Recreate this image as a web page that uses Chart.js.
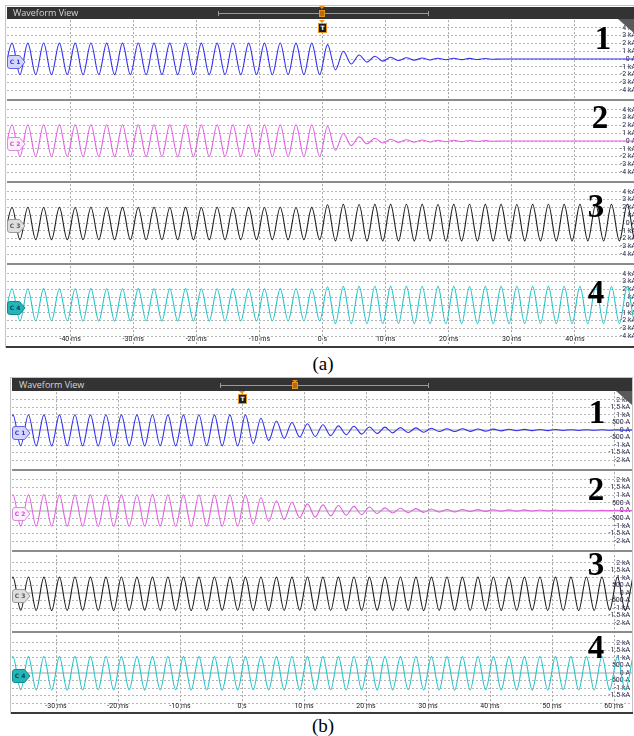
<!DOCTYPE html>
<html>
<head>
<meta charset="utf-8">
<script src="https://cdn.jsdelivr.net/npm/chart.js@4.4.1/dist/chart.umd.min.js"></script>
<style>
  html, body { margin: 0; padding: 0; }
  body { width: 634px; height: 736px; overflow: hidden; background: #fff; position: relative; font-family: 'Open Sans', sans-serif; }
  .abs { position: absolute; }
  .frame { position: absolute; box-sizing: border-box; border: 1px solid #c4c4c4; }
  .head { position: absolute; background: #333; color: #d6d6d6; font-size: 9px; white-space: nowrap; }
  .head span { position: absolute; }
  .rail { position: absolute; height: 1px; background: #9a9a9a; }
  .cap { position: absolute; width: 1px; height: 5px; background: #9a9a9a; }
  .sep { position: absolute; height: 2px; background: #8c8c8c; }
  .base { position: absolute; height: 2px; background: #3a3a3a; }
  .num { position: absolute; font-family: 'Liberation Serif', serif; font-weight: bold; font-size: 33px; line-height: 33px; color: #000; transform: translateX(-50%); }
  .cap-label { position: absolute; font-family: 'Liberation Serif', serif; font-size: 19px; line-height: 19px; color: #000; transform: translateX(-50%); }
  .corner { position: absolute; width: 0; height: 0; border-top: 14px solid #5a5a5a; border-left: 16px solid transparent; }
  .pos { position: absolute; width: 4px; height: 5px; background: #b86a12; border: 1px solid #e8901e; }
  .tri { position: absolute; width: 0; height: 0; border-left: 3px solid transparent; border-right: 3px solid transparent; border-top: 3px solid #e8901e; }
  .trig { position: absolute; width: 7px; height: 8px; background: #1c1c1c; border: 1px solid #e8901e; color: #fff; font: bold 6px/8px 'DejaVu Sans', sans-serif; text-align: center; }
</style>
</head>
<body>
<script>
// Channel currents in kA, one value per successive half-cycle extremum.
// The sample clock is the half period of the 400 Hz signal (1.25 ms).
const HALF_PERIOD = 1.25;

// Record (a): first extremum at -50.45 ms
const startA = -50.45;
const ch1A = [
  -2.0, 2.05, -2.02, 2.05, -2.0, 2.06, -2.01, 2.05, -2.0, 2.05,
  -2.02, 2.06, -2.0, 2.05, -2.01, 2.05, -2.0, 2.06, -2.02, 2.05,
  -2.0, 2.05, -2.01, 2.06, -2.0, 2.05, -2.02, 2.05, -2.0, 2.06,
  -2.01, 2.05, -2.0, 2.05, -2.02, 2.06, -2.0, 2.05, -2.01, 2.05,
  -2.0,
  1.85, -1.4, 1.0, -0.65, 0.52, -0.4, 0.36, -0.28, 0.22, -0.2,
  0.16, -0.15, 0.12, -0.12, 0.1, -0.1, 0.09, -0.08, 0.08, -0.07,
  0.06, -0.04,
  0, 0, 0, 0, 0, 0, 0, 0, 0, 0, 0, 0, 0, 0, 0, 0, 0, 0, 0
];
const ch2A = [
  -2.0, 2.1, -2.01, 2.09, -2.0, 2.1, -2.02, 2.1, -2.0, 2.09,
  -2.01, 2.1, -2.0, 2.1, -2.02, 2.09, -2.0, 2.1, -2.01, 2.1,
  -2.0, 2.09, -2.02, 2.1, -2.0, 2.1, -2.01, 2.09, -2.0, 2.1,
  -2.02, 2.1, -2.0, 2.09, -2.01, 2.1, -2.0, 2.1, -2.02, 2.1,
  -2.0,
  1.9, -1.2, 0.97, -0.6, 0.53, -0.36, 0.36, -0.25, 0.22, -0.18,
  0.16, -0.14, 0.13, -0.12, 0.1, -0.1, 0.09, -0.08, 0.07, -0.06,
  0.05, -0.04,
  0, 0, 0, 0, 0, 0, 0, 0, 0, 0, 0, 0, 0, 0, 0, 0, 0, 0, 0
];
const ch3A = [
  -2.15, 2.0, -2.14, 2.02, -2.15, 2.0, -2.16, 2.01, -2.15, 2.0,
  -2.14, 2.02, -2.15, 2.0, -2.15, 2.01, -2.16, 2.0, -2.15, 2.02,
  -2.14, 2.0, -2.15, 2.01, -2.15, 2.0, -2.16, 2.02, -2.15, 2.0,
  -2.14, 2.01, -2.15, 2.0, -2.15, 2.02, -2.16, 2.0, -2.15, 2.01,
  -2.15,
  2.36, -2.3, 2.4, -2.31, 2.39, -2.3, 2.4, -2.32, 2.4, -2.3,
  2.41, -2.31, 2.4, -2.3, 2.39, -2.32, 2.4, -2.3, 2.41, -2.31,
  2.4, -2.3, 2.4, -2.32, 2.39, -2.3, 2.4, -2.31, 2.41, -2.3,
  2.4, -2.32, 2.4, -2.3, 2.39, -2.31, 2.4, -2.3, 2.41, -2.32,
  2.4
];
const ch4A = [
  -2.05, 2.1, -2.06, 2.1, -2.05, 2.11, -2.05, 2.1, -2.04, 2.1,
  -2.05, 2.11, -2.06, 2.1, -2.05, 2.1, -2.05, 2.11, -2.04, 2.1,
  -2.05, 2.1, -2.06, 2.11, -2.05, 2.1, -2.05, 2.1, -2.04, 2.11,
  -2.05, 2.1, -2.06, 2.1, -2.05, 2.11, -2.05, 2.1, -2.04, 2.1,
  -2.05,
  2.36, -2.4, 2.4, -2.41, 2.4, -2.4, 2.41, -2.4, 2.4, -2.39,
  2.4, -2.4, 2.41, -2.4, 2.4, -2.41, 2.4, -2.4, 2.39, -2.4,
  2.4, -2.41, 2.4, -2.4, 2.41, -2.4, 2.4, -2.39, 2.4, -2.4,
  2.41, -2.4, 2.4, -2.41, 2.4, -2.4, 2.39, -2.4, 2.4, -2.4,
  2.41
];

// Record (b): first extremum at -38.2 ms
const startB = -38.2;
const ch1B = [
  -1.05, 1.0, -1.04, 1.01, -1.05, 1.0, -1.05, 1.0, -1.04, 1.01,
  -1.05, 1.0, -1.05, 1.01, -1.04, 1.0, -1.05, 1.0, -1.05, 1.01,
  -1.04, 1.0, -1.05, 1.0, -1.05, 1.01, -1.04, 1.0, -1.05, 1.0,
  -1.05,
  1.0, -0.9, 0.78, -0.7, 0.6, -0.56, 0.5, -0.46, 0.41, -0.43,
  0.35, -0.37, 0.27, -0.31, 0.25, -0.27, 0.2, -0.23, 0.19, -0.19,
  0.16, -0.17, 0.14, -0.15, 0.12, -0.1, 0.08,
  -0.1, 0.08, -0.09, 0.07, -0.08, 0.06, -0.06, 0.05, -0.05, 0.04,
  -0.04, 0.03, -0.04, 0.03, -0.03, 0.02, -0.03, 0.02, -0.02, 0.02,
  -0.02, 0.01, -0.02, 0.01
];
const ch2B = [
  -1.03, 1.03, -1.02, 1.03, -1.03, 1.04, -1.03, 1.03, -1.02, 1.03,
  -1.03, 1.03, -1.04, 1.03, -1.03, 1.02, -1.03, 1.03, -1.03, 1.04,
  -1.02, 1.03, -1.03, 1.03, -1.04, 1.03, -1.03, 1.02, -1.03, 1.03,
  -1.03,
  1.03, -0.9, 0.85, -0.72, 0.64, -0.6, 0.54, -0.47, 0.43, -0.43,
  0.37, -0.35, 0.33, -0.31, 0.27, -0.27, 0.23, -0.2, 0.17, -0.16,
  0.15, -0.14, 0.12, -0.12, 0.1, -0.1, 0.07,
  -0.09, 0.07, -0.07, 0.06, -0.06, 0.05, -0.05, 0.04, -0.04, 0.04,
  -0.03, 0.03, -0.03, 0.03, -0.02, 0.02, -0.02, 0.02, -0.02, 0.01,
  -0.01, 0.01, -0.01, 0.01
];
const ch3B = [
  -1.15, 1.05, -1.14, 1.06, -1.15, 1.05, -1.16, 1.05, -1.15, 1.06,
  -1.14, 1.05, -1.15, 1.05, -1.16, 1.06, -1.15, 1.05, -1.14, 1.05,
  -1.15, 1.06, -1.15, 1.05, -1.16, 1.05, -1.15, 1.06, -1.14, 1.05,
  -1.15, 1.05, -1.15, 1.06, -1.16, 1.05, -1.15, 1.05, -1.14, 1.06,
  -1.15, 1.05, -1.15, 1.05, -1.16, 1.06, -1.15, 1.05, -1.14, 1.05,
  -1.15, 1.06, -1.15, 1.05, -1.16, 1.05, -1.15, 1.06, -1.14, 1.05,
  -1.15, 1.05, -1.15, 1.06, -1.16, 1.05, -1.15, 1.05, -1.14, 1.06,
  -1.15, 1.05, -1.15, 1.05, -1.16, 1.06, -1.15, 1.05, -1.14, 1.05,
  -1.15, 1.06
];
const ch4B = [
  -1.12, 1.08, -1.11, 1.08, -1.12, 1.09, -1.12, 1.08, -1.13, 1.08,
  -1.12, 1.08, -1.11, 1.09, -1.12, 1.08, -1.12, 1.08, -1.13, 1.08,
  -1.12, 1.09, -1.11, 1.08, -1.12, 1.08, -1.12, 1.08, -1.13, 1.09,
  -1.12, 1.08, -1.11, 1.08, -1.12, 1.08, -1.12, 1.09, -1.13, 1.08,
  -1.12, 1.08, -1.11, 1.08, -1.12, 1.09, -1.12, 1.08, -1.13, 1.08,
  -1.12, 1.08, -1.11, 1.09, -1.12, 1.08, -1.12, 1.08, -1.13, 1.08,
  -1.12, 1.09, -1.11, 1.08, -1.12, 1.08, -1.12, 1.08, -1.13, 1.09,
  -1.12, 1.08, -1.11, 1.08, -1.12, 1.08, -1.12, 1.09, -1.13, 1.08,
  -1.12, 1.08
];

// Axis ticks
const timeTicksA = [-40, -30, -20, -10, 0, 10, 20, 30, 40];
const timeTicksB = [-30, -20, -10, 0, 10, 20, 30, 40, 50, 60];
const ampTicksA = [4, 3, 2, 1, 0, -1, -2, -3, -4];
const ampLabelsA = ['4 kA', '3 kA', '2 kA', '1 kA', '0 A', '-1 kA', '-2 kA', '-3 kA', '-4 kA'];
const ampTicksB = [2, 1.5, 1, 0.5, 0, -0.5, -1, -1.5, -2];
const ampLabelsB = ['2 kA', '1.5 kA', '1 kA', '500 A', '0 A', '-500 A', '-1 kA', '-1.5 kA', '-2 kA'];

const channelNames = ['C 1', 'C 2', 'C 3', 'C 4'];
const traceColors = ['#2f2ff0', '#e45ee4', '#1e1e1e', '#27c3cb'];
const tagStyles = [
  { fill: '#d6d6fb', stroke: '#6262ee', text: '#3434d8' },
  { fill: '#fcf0fc', stroke: '#e08ae0', text: '#cc4ccc' },
  { fill: '#dedede', stroke: '#9a9a9a', text: '#555' },
  { fill: '#22b6bc', stroke: '#15868b', text: '#0b3b3e' }
];

const SCOPE_FONT = "'Liberation Sans Narrow', 'Roboto', sans-serif";

// Screen layout of the two records
const panels = [
  {
    left: 7, width: 631, min: -50, max: 50, start: startA, ampMax: 5, labelPad: -2,
    ampTicks: ampTicksA, ampLabels: ampLabelsA, timeTicks: timeTicksA, zeroLine: false,
    hideLowestLabel: false,
    tops: [18, 100, 182, 264], heights: [82, 82, 82, 82],
    series: [ch1A, ch2A, ch3A, ch4A],
    tagLeft: 7, numX: [603, 600, 596, 596], numY: [38, 117, 206, 292]
  },
  {
    left: 12, width: 620, min: -37.1, max: 62.9, start: startB, ampMax: 2.5, labelPad: -2,
    ampTicks: ampTicksB, ampLabels: ampLabelsB, timeTicks: timeTicksB, zeroLine: true,
    hideLowestLabel: true,
    tops: [390, 470, 553, 633], heights: [80, 81, 80, 80],
    series: [ch1B, ch2B, ch3B, ch4B],
    tagLeft: 12, numX: [597, 596, 596, 596], numY: [412, 489, 564, 647]
  }
];

// Time labels sit inside the bottom strip, just above its lower edge
const timeLabels = {
  id: 'timeLabels',
  beforeDatasetsDraw(chart, args, opts) {
    if (!opts.show) return;
    const { ctx, chartArea, scales: { x } } = chart;
    ctx.save();
    ctx.font = '7px ' + SCOPE_FONT;
    ctx.fillStyle = '#1c1c1c';
    ctx.textAlign = 'center';
    ctx.textBaseline = 'middle';
    x.ticks.forEach(t => {
      ctx.fillText(t.label, x.getPixelForValue(t.value), chartArea.bottom - 4.5);
    });
    ctx.restore();
  }
};

function el(cls, css, text) {
  const d = document.createElement('div');
  d.className = cls;
  d.style.cssText = css;
  if (text) d.textContent = text;
  document.body.appendChild(d);
  return d;
}

function isZero(p, ctx) {
  return p.zeroLine && ctx.tick && ctx.tick.value === 0;
}

function drawStrip(p, k) {
  const canvas = document.createElement('canvas');
  canvas.width = p.width;
  canvas.height = p.heights[k];
  canvas.style.cssText = `position:absolute;left:${p.left}px;top:${p.tops[k]}px;`;
  document.body.appendChild(canvas);
  const points = p.series[k].map((v, i) => ({ x: p.start + i * HALF_PERIOD, y: v }));
  const bottom = k === 3;
  const lowest = p.ampTicks[p.ampTicks.length - 1];
  new Chart(canvas, {
    type: 'line',
    data: {
      datasets: [{
        data: points,
        borderColor: traceColors[k],
        borderWidth: 1.1,
        pointRadius: 0,
        cubicInterpolationMode: 'monotone',
        fill: false
      }]
    },
    plugins: [timeLabels],
    options: {
      responsive: false,
      animation: false,
      devicePixelRatio: 1,
      layout: { padding: 0 },
      plugins: {
        legend: { display: false },
        tooltip: { enabled: false },
        timeLabels: { show: bottom }
      },
      scales: {
        x: {
          type: 'linear',
          min: p.min,
          max: p.max,
          afterFit: s => { s.height = 0; },
          afterBuildTicks: s => { s.ticks = p.timeTicks.map(v => ({ value: v })); },
          grid: { drawTicks: false, color: '#a2a2a2' },
          border: { display: false, dash: [2, 2] },
          ticks: {
            display: false,
            autoSkip: false,
            callback: v => (v === 0 ? '0 s' : v + ' ms')
          }
        },
        y: {
          position: 'right',
          min: -p.ampMax,
          max: p.ampMax,
          afterFit: s => { s.width = 0; },
          afterBuildTicks: s => { s.ticks = p.ampTicks.map(v => ({ value: v })); },
          grid: {
            drawTicks: false,
            color: ctx => (isZero(p, ctx) ? '#d2d2d2' : '#b6b6b6'),
            lineWidth: ctx => (isZero(p, ctx) ? 2 : 1)
          },
          border: { display: false, dash: ctx => (isZero(p, ctx) ? [] : [2, 2]) },
          ticks: {
            mirror: true,
            autoSkip: false,
            padding: p.labelPad,
            color: '#2b2b4e',
            font: { family: SCOPE_FONT, size: 7 },
            callback: v => (bottom && p.hideLowestLabel && v === lowest)
              ? '' : p.ampLabels[p.ampTicks.indexOf(v)]
          }
        }
      }
    }
  });
}

function tag(x, cy, k) {
  const s = tagStyles[k];
  const d = document.createElement('div');
  d.className = 'abs';
  d.style.cssText = `left:${x}px;top:${cy - 7}px;width:19px;height:14px;`;
  d.innerHTML =
    `<svg width="19" height="14" xmlns="http://www.w3.org/2000/svg">` +
    `<path d="M3,0.5 H12.5 L18,7 L12.5,13.5 H3 Q0.5,13.5 0.5,11 V3 Q0.5,0.5 3,0.5 Z" fill="${s.fill}" stroke="${s.stroke}" stroke-width="1"/>` +
    `<text x="8" y="9.4" font-family="DejaVu Sans, sans-serif" font-size="6" font-weight="bold" text-anchor="middle" fill="${s.text}">${channelNames[k]}</text>` +
    `</svg>`;
  document.body.appendChild(d);
}

// frames
el('frame', 'left:5px;top:5px;width:640px;height:343px;');
el('frame', 'left:10px;top:377px;width:623px;height:337px;');

panels.forEach(p => {
  for (let k = 0; k < 4; k++) drawStrip(p, k);
});

// strip separators and bottom edges
[100, 182, 264].forEach(y => el('sep', `left:7px;top:${y - 1}px;width:631px;`));
[470, 551, 632].forEach(y => el('sep', `left:12px;top:${y - 1}px;width:620px;`));
el('base', 'left:6px;top:346px;width:632px;');
el('base', 'left:11px;top:712px;width:622px;');

// header bars
const hA = el('head', 'left:7px;top:7px;width:630px;height:12px;');
hA.innerHTML = '<span style="left:6px;top:0;line-height:12px">Waveform View</span>';
const hB = el('head', 'left:12px;top:378px;width:620px;height:13px;');
hB.innerHTML = '<span style="left:7px;top:0;line-height:13px">Waveform View</span>';

// record position slider
el('rail', 'left:218px;top:13px;width:210px;');
el('cap', 'left:218px;top:11px;');
el('cap', 'left:428px;top:11px;');
el('tri', 'left:319px;top:6px;');
el('pos', 'left:319px;top:10px;');
el('rail', 'left:220px;top:385px;width:208px;');
el('cap', 'left:220px;top:383px;');
el('cap', 'left:428px;top:383px;');
el('tri', 'left:292px;top:380px;');
el('pos', 'left:292px;top:382px;');

// trigger markers
el('tri', 'left:319px;top:20px;');
el('trig', 'left:318px;top:23px;', 'T');
el('tri', 'left:239px;top:391px;');
el('trig', 'left:238px;top:394px;', 'T');

// zoom corners
el('corner', 'left:618px;top:19px;');
el('corner', 'left:616px;top:391px;');

// channel tags and strip numbers
panels.forEach(p => {
  for (let k = 0; k < 4; k++) {
    const zeroY = p.tops[k] + p.heights[k] / 2;
    tag(p.tagLeft, zeroY, k);
    el('num', `left:${p.numX[k]}px;top:${p.numY[k] - 16.5}px;`, String(k + 1));
  }
});

el('cap-label', 'left:323px;top:354px;', '(a)');
el('cap-label', 'left:323px;top:716px;', '(b)');
</script>
</body>
</html>
